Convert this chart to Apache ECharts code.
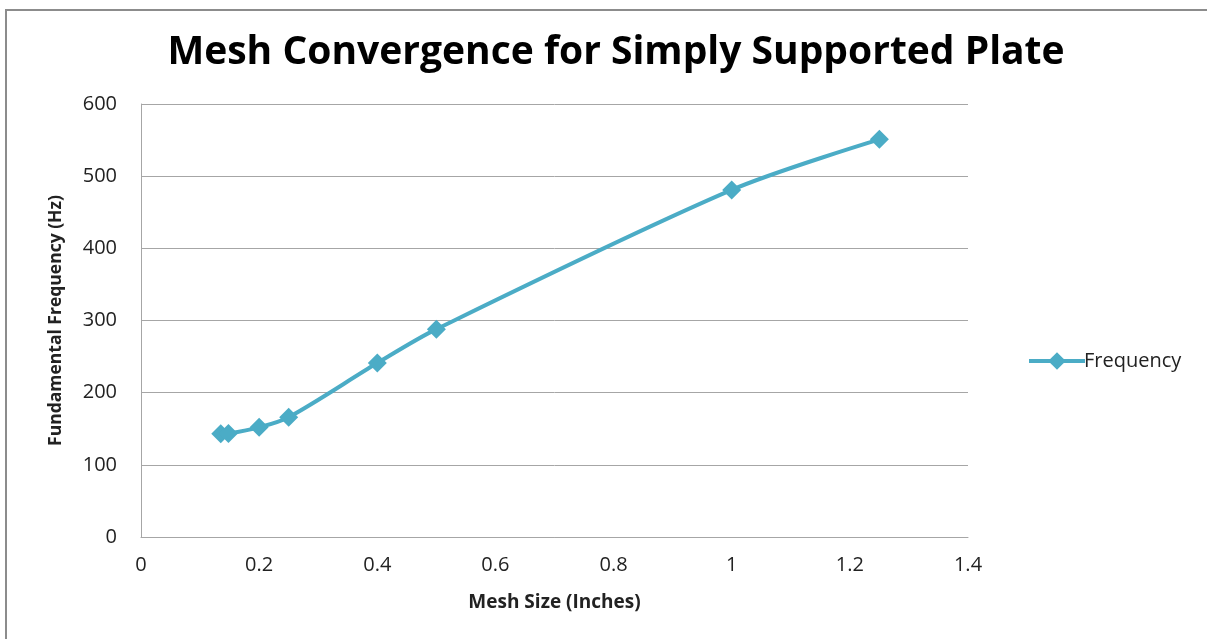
<!DOCTYPE html>
<html>
<head>
<meta charset="utf-8">
<script src="https://cdn.jsdelivr.net/npm/echarts@6/dist/echarts.min.js"></script>
<style>
  html, body { margin: 0; padding: 0; background: #fff; }
  #chart { width: 1207px; height: 639px; }
</style>
</head>
<body>
<div id="chart"></div>
<script>
// Mesh size (inches) and the resulting fundamental frequency (Hz)
const meshSize = [0.135, 0.148, 0.2, 0.25, 0.4, 0.5, 1.0, 1.25];
const frequency = [143, 143.5, 152, 166, 241, 288, 481, 551];
const seriesName = 'Frequency';

const lineColor = '#4bacc6';
const gridColor = '#a6a6a6';
const font = 'Open Sans, Lato, sans-serif';

const chart = echarts.init(document.getElementById('chart'));
chart.setOption({
  animation: false,
  backgroundColor: '#ffffff',
  graphic: [{
    type: 'rect',
    shape: { x: 6, y: 10, width: 1220, height: 660 },
    style: { fill: 'none', stroke: '#8c8c8c', lineWidth: 2 },
    silent: true
  }],
  title: {
    text: 'Mesh Convergence for Simply Supported Plate',
    left: 611, top: 28, textAlign: 'center',
    textStyle: { fontFamily: font, fontWeight: 'bold', fontSize: 39, color: '#000' }
  },
  legend: {
    orient: 'vertical',
    left: 1022, top: 346,
    itemWidth: 56, itemHeight: 22, itemGap: 4,
    data: [seriesName],
    lineStyle: { width: 4 },
    itemStyle: { borderWidth: 0 },
    textStyle: { fontFamily: font, fontSize: 20, color: '#222', padding: [0, 0, 0, -6] }
  },
  grid: { left: 141, right: 239, top: 104, bottom: 102 },
  xAxis: {
    type: 'value', min: 0, max: 1.4, interval: 0.2,
    name: 'Mesh Size (Inches)', nameLocation: 'middle', nameGap: 56,
    nameTextStyle: { fontFamily: font, fontWeight: 'bold', fontSize: 19, color: '#222' },
    axisLine: { show: true, lineStyle: { color: gridColor, width: 1 } },
    axisTick: { show: false },
    splitLine: { show: false },
    axisLabel: { fontFamily: font, fontSize: 20, color: '#222', margin: 18,
      formatter: v => String(Math.round(v * 10) / 10) }
  },
  yAxis: {
    type: 'value', min: 0, max: 600, interval: 100,
    name: 'Fundamental Frequency (Hz)', nameLocation: 'middle', nameGap: 76,
    nameTextStyle: { fontFamily: font, fontWeight: 'bold', fontSize: 17.5, color: '#222' },
    axisLine: { show: true, lineStyle: { color: gridColor, width: 1 } },
    axisTick: { show: false },
    splitLine: { lineStyle: { color: gridColor, width: 1 } },
    axisLabel: { fontFamily: font, fontSize: 20, color: '#222', margin: 24 }
  },
  series: [{
    name: seriesName,
    type: 'line',
    smooth: 0.3,
    data: meshSize.map((x, i) => [x, frequency[i]]),
    symbol: 'diamond',
    symbolSize: 19,
    lineStyle: { color: lineColor, width: 4 },
    itemStyle: { color: lineColor }
  }]
});
</script>
</body>
</html>
